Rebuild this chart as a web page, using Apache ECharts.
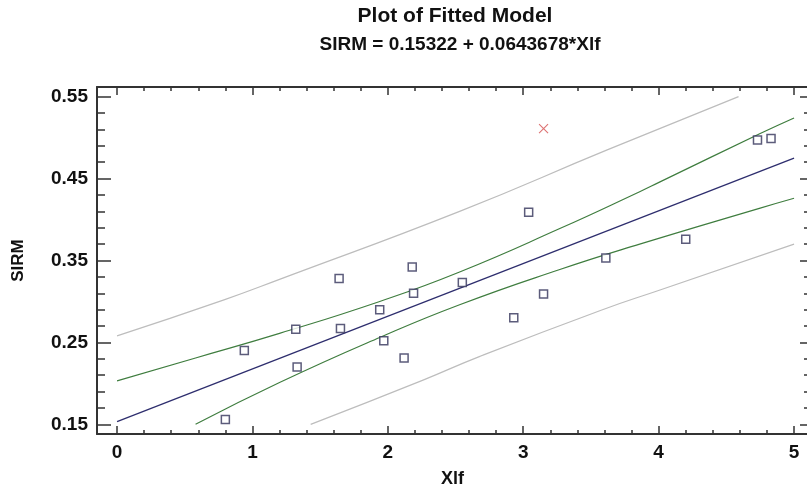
<!DOCTYPE html>
<html>
<head>
<meta charset="utf-8">
<script src="https://cdn.jsdelivr.net/npm/echarts@6/dist/echarts.min.js"></script>
<style>
  html, body { margin: 0; padding: 0; background: #ffffff; }
  #chart { width: 807px; height: 486px; }
</style>
</head>
<body>
<div id="chart"></div>
<script>
// Observations (Xlf vs SIRM)
const xlf  = [0.80, 0.94, 1.32, 1.33, 1.64, 1.65, 1.94, 1.97, 2.12, 2.18, 2.19, 2.55, 2.93, 3.04, 3.15, 3.61, 4.20, 4.73, 4.83];
const sirm = [0.156, 0.240, 0.266, 0.220, 0.328, 0.267, 0.290, 0.252, 0.231, 0.342, 0.310, 0.323, 0.280, 0.409, 0.309, 0.353, 0.376, 0.497, 0.499];

// Point excluded from the fit
const excludedXlf  = [3.15];
const excludedSirm = [0.511];

// Fitted line SIRM = 0.15322 + 0.0643678*Xlf, at its two ends
const fitXlf  = [0, 5];
const fitSirm = [0.15322, 0.47506];

// Confidence limits for the mean
const confUpperX = [0, 0.58, 1.20, 1.94, 2.53, 3.27, 3.86, 4.01, 4.75, 5.0];
const confUpperY = [0.203, 0.231, 0.261, 0.300, 0.336, 0.389, 0.434, 0.446, 0.505, 0.524];
const confLowerX = [0.58, 1.20, 1.94, 2.53, 3.27, 3.86, 4.75, 5.0];
const confLowerY = [0.150, 0.201, 0.256, 0.296, 0.339, 0.370, 0.414, 0.426];

// Prediction limits
const predUpperX = [0, 0.79, 1.20, 2.53, 3.62, 4.59];
const predUpperY = [0.258, 0.302, 0.327, 0.410, 0.485, 0.550];
const predLowerX = [1.43, 2.26, 2.68, 3.57, 4.01, 5.0];
const predLowerY = [0.150, 0.204, 0.233, 0.289, 0.314, 0.370];

// Tick positions
const xMajorTicks = [0, 1, 2, 3, 4, 5];
const yMajorTicks = [0.15, 0.25, 0.35, 0.45, 0.55];
const xMinorTicks = [];
for (let i = 1; i < 25; i++) { if (i % 5) xMinorTicks.push(Math.round(i * 20) / 100); }
const yMinorTicks = [];
for (let i = 1; i < 20; i++) { if (i % 5) yMinorTicks.push(Math.round((0.15 + i * 0.02) * 1000) / 1000); }

const X_MIN = -0.148, X_MAX = 5.103;
const Y_MIN = 0.1382, Y_MAX = 0.5618;

const FONT = "'Liberation Sans', Arial, sans-serif";
const INK = '#333333';

function zip(a, b) { return a.map((v, i) => [v, b[i]]); }

function xAxisDef(position, ticks, len, withLabel, withLine) {
  return {
    type: 'value', position: position, min: X_MIN, max: X_MAX,
    splitLine: { show: false },
    axisLine: { show: withLine, onZero: false, lineStyle: { color: INK, width: 2 } },
    axisTick: { show: true, inside: true, length: len, customValues: ticks, lineStyle: { color: INK, width: 1.5 } },
    axisLabel: withLabel ? {
      show: true, customValues: ticks, margin: 9,
      color: '#111', fontFamily: FONT, fontWeight: 'bold', fontSize: 19,
      formatter: v => String(Math.round(v))
    } : { show: false },
    name: withLabel ? 'Xlf' : '',
    nameLocation: 'middle', nameGap: 36,
    nameTextStyle: { color: '#111', fontFamily: FONT, fontWeight: 'bold', fontSize: 18 }
  };
}

function yAxisDef(position, ticks, len, withLabel, withLine) {
  return {
    type: 'value', position: position, min: Y_MIN, max: Y_MAX,
    splitLine: { show: false },
    axisLine: { show: withLine, onZero: false, lineStyle: { color: INK, width: 2 } },
    axisTick: { show: true, inside: true, length: len, customValues: ticks, lineStyle: { color: INK, width: 1.5 } },
    axisLabel: withLabel ? {
      show: true, customValues: ticks, margin: 9,
      color: '#111', fontFamily: FONT, fontWeight: 'bold', fontSize: 19,
      formatter: v => v.toFixed(2)
    } : { show: false },
    name: withLabel ? 'SIRM' : '',
    nameLocation: 'middle', nameGap: 70, nameRotate: 90,
    nameTextStyle: { color: '#111', fontFamily: FONT, fontWeight: 'bold', fontSize: 17 }
  };
}

function band(x, y, color, width) {
  return {
    type: 'line', data: zip(x, y), symbol: 'none', smooth: 0.5, silent: true,
    lineStyle: { color: color, width: width }, z: 2
  };
}

const chart = echarts.init(document.getElementById('chart'), null, { renderer: 'canvas' });

chart.setOption({
  animation: false,
  backgroundColor: '#ffffff',
  title: [
    { text: 'Plot of Fitted Model', left: 450, top: 1, textAlign: 'center',
      textStyle: { color: '#111', fontFamily: FONT, fontWeight: 'bold', fontSize: 21 } },
    { text: 'SIRM = 0.15322 + 0.0643678*Xlf', left: 455, top: 30, textAlign: 'center',
      textStyle: { color: '#111', fontFamily: FONT, fontWeight: 'bold', fontSize: 19 } }
  ],
  grid: { left: 97, top: 87, width: 711, height: 347, containLabel: false, outerBoundsMode: 'none' },
  xAxis: [
    xAxisDef('bottom', xMajorTicks, 8, true, true),
    xAxisDef('bottom', xMinorTicks, 4, false, false),
    xAxisDef('top', xMajorTicks, 8, false, true),
    xAxisDef('top', xMinorTicks, 4, false, false)
  ],
  yAxis: [
    yAxisDef('left', yMajorTicks, 14, true, true),
    yAxisDef('left', yMinorTicks, 8, false, false),
    yAxisDef('right', yMajorTicks, 8, false, false),
    yAxisDef('right', yMinorTicks, 4, false, false)
  ],
  series: [
    band(predUpperX, predUpperY, '#bdbdbd', 1.2),
    band(predLowerX, predLowerY, '#bdbdbd', 1.2),
    band(confUpperX, confUpperY, '#3f7d3f', 1.2),
    band(confLowerX, confLowerY, '#3f7d3f', 1.2),
    {
      type: 'line', data: zip(fitXlf, fitSirm), symbol: 'none', silent: true,
      lineStyle: { color: '#2e2e6e', width: 1.3 }, z: 3
    },
    {
      type: 'scatter', data: zip(xlf, sirm), symbol: 'rect', symbolSize: 8,
      itemStyle: { color: '#ffffff', borderColor: '#33335a', borderWidth: 1.5 }, z: 4
    },
    {
      type: 'scatter', data: zip(excludedXlf, excludedSirm),
      symbol: 'path://M0 0L10 10M10 0L0 10', symbolSize: 9, symbolKeepAspect: true,
      itemStyle: { color: 'rgba(0,0,0,0)', borderColor: '#d45050', borderWidth: 1.1 }, z: 4
    }
  ]
});
</script>
</body>
</html>
